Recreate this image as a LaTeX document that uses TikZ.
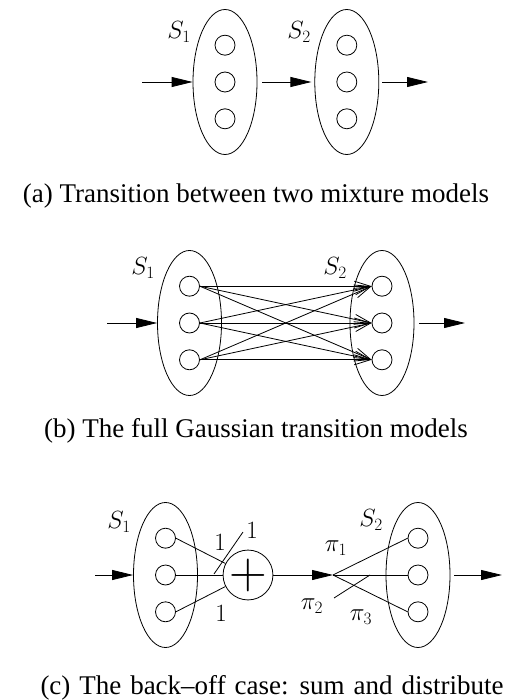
\documentclass[tikz,border=0pt]{standalone}
\usepackage{fontspec}
\setmainfont{Liberation Serif}
\usetikzlibrary{positioning, arrows.meta, shapes.geometric}
\tikzset{
  grp/.style={draw, ellipse, minimum width=64pt, minimum height=145pt,
              inner sep=0pt, line width=0.8pt},
  mix/.style={draw, circle, minimum size=20pt, inner sep=0pt, line width=0.8pt},
  sumnd/.style={draw, circle, minimum size=38pt, inner sep=0pt, line width=0.8pt,
                font=\fontsize{24}{24}\selectfont},
  lbl/.style={font=\fontsize{24}{24}\selectfont, inner sep=0pt},
  captxt/.style={font=\fontsize{27}{30}\selectfont, inner sep=0pt},
  var/.style={-{Triangle[length=21pt, width=10pt]}, line width=0.8pt},
  trn/.style={-{Straight Barb[length=16pt, width=10pt]}, line width=0.8pt},
  wln/.style={line width=0.8pt},
}

\begin{document}
\begin{tikzpicture}[x=1pt, y=-1pt]
  \useasboundingbox (0,0) rectangle (514,700);
  % (a) two mixtures
  \node[grp](ea1) at (225,82) {};
  \node[grp, right=57pt of ea1](ea2) {};
  % (b) full transitions
  \node[grp](eb1) at (189.5,323) {};
  \node[grp](eb2) at (382,323) {};
  % (c) back-off
  \node[grp](ec1) at (165.5,575) {};
  \node[grp](ec2) at (418,575) {};
  \foreach \g in {ea1, ea2, eb1, eb2, ec1, ec2} {
    \node[mix](\g-2) at (\g) {};
    \node[mix, above=16pt of \g-2](\g-1) {};
    \node[mix, below=16pt of \g-2](\g-3) {};
  }
  \node[sumnd](sum) at (248,575) {\scalebox{2.1}{$+$}};

  \node[lbl](sa1) at (179,32) {$S_1$};
  \node[lbl](sa2) at (299,32) {$S_2$};
  \node[lbl](sb1) at (143,268) {$S_1$};
  \node[lbl](sb2) at (335,268) {$S_2$};
  \node[lbl](sc1) at (119,522) {$S_1$};
  \node[lbl](sc2) at (371,520) {$S_2$};
  \node[lbl](w1) at (220,542) {$1$};
  \node[lbl](w2) at (252,530) {$1$};
  \node[lbl](w3) at (221,613) {$1$};
  \node[lbl](p1) at (336,548) {$\pi_1$};
  \node[lbl](p2) at (312,606) {$\pi_2$};
  \node[lbl](p3) at (361,617) {$\pi_3$};

  \coordinate (ina) at (142,82);  \coordinate (outa) at (428,82);
  \coordinate (inb) at (107,323); \coordinate (outb) at (465,323);
  \coordinate (inc) at (95,575);  \coordinate (outc) at (502,575);
  \coordinate (fan) at (333,575);
  \coordinate (tk1) at (214,574); \coordinate (tk2) at (243,532);
  \coordinate (xa) at (334,598);  \coordinate (xb) at (370,575);

  \draw[var](ina)--(ea1);
  \draw[var, shorten <=5pt, shorten >=3pt](ea1)--(ea2);
  \draw[var, shorten <=3pt](ea2)--(outa);
  \draw[var](inb)--(eb1);
  \draw[var, shorten <=5pt](eb2)--(outb);
  \foreach \i in {1,2,3}
    \foreach \j in {1,2,3}
      \draw[trn](eb1-\i.east)--(eb2-\j.west);
  \draw[var](inc)--(ec1);
  \draw[var, shorten <=4pt](ec2)--(outc);
  \foreach \i in {1,2,3} \draw[wln](ec1-\i.east)--(sum);
  \draw[var](sum)--(fan);
  \foreach \j in {1,2,3} \draw[wln](fan)--(ec2-\j.west);
  \draw[wln](tk1)--(tk2);
  \draw[wln](xa)--(xb);

  \node[captxt](capa) at (256,196) {(a) Transition between two mixture models};
  \node[captxt](capb) at (256,431) {(b) The full Gaussian transition models};
  \node[captxt](capc) at (272,688)
    {\spaceskip=8.9pt plus 1pt\relax (c) The back–off case: sum and distribute};
\end{tikzpicture}
\end{document}
